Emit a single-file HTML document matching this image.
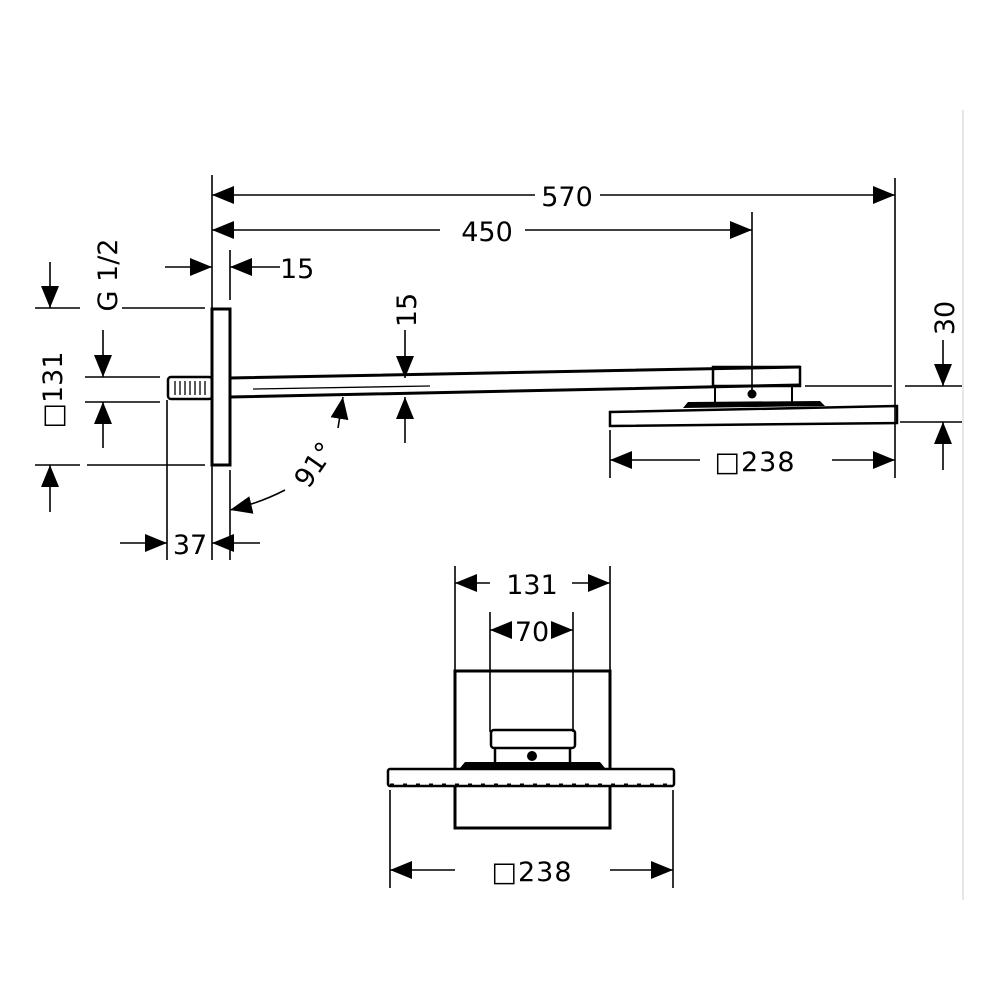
<!DOCTYPE html>
<html><head><meta charset="utf-8"><style>
html,body{margin:0;padding:0;background:#fff}
svg{display:block}
text{font-family:"DejaVu Sans","Liberation Sans",sans-serif;font-size:27px;fill:#000}
</style></head><body>
<svg width="1000" height="1000" viewBox="0 0 1000 1000" xmlns="http://www.w3.org/2000/svg">
<defs>
<marker id="a" markerUnits="userSpaceOnUse" markerWidth="24" markerHeight="20" refX="22" refY="9" orient="auto">
<path d="M0,0 L22,9 L0,18 Z" fill="#000"/></marker>
</defs>
<line x1="963" y1="110" x2="963" y2="900" stroke="#ddd" stroke-width="1.5"/>
<g stroke="#000" stroke-width="1.6" fill="none">
<line x1="212" y1="175" x2="212" y2="560"/>
<line x1="230" y1="250" x2="230" y2="300"/>
<line x1="230" y1="470" x2="230" y2="560"/>
<line x1="895" y1="178" x2="895" y2="478"/>
<line x1="752" y1="212" x2="752" y2="395"/>
<line x1="167" y1="400" x2="167" y2="560"/>
<line x1="610" y1="430" x2="610" y2="478"/>
<line x1="35" y1="308" x2="80" y2="308"/><line x1="122" y1="308" x2="205" y2="308"/>
<line x1="35" y1="465" x2="80" y2="465"/><line x1="87" y1="465" x2="205" y2="465"/>
<line x1="85" y1="377" x2="160" y2="377"/>
<line x1="85" y1="402" x2="160" y2="402"/>
<line x1="805" y1="386" x2="892" y2="386"/><line x1="905" y1="386" x2="962" y2="386"/>
<line x1="900" y1="422" x2="962" y2="422"/>
<path d="M535,195 L212,195" marker-end="url(#a)"/>
<path d="M600,195 L895,195" marker-end="url(#a)"/>
<path d="M440,230 L212,230" marker-end="url(#a)"/>
<path d="M525,230 L752,230" marker-end="url(#a)"/>
<path d="M165,267 L212,267" marker-end="url(#a)"/>
<path d="M280,267 L230,267" marker-end="url(#a)"/>
<path d="M50,262 L50,308" marker-end="url(#a)"/>
<path d="M50,512 L50,465" marker-end="url(#a)"/>
<path d="M103,330 L103,377" marker-end="url(#a)"/>
<path d="M103,448 L103,402" marker-end="url(#a)"/>
<path d="M120,543 L167,543" marker-end="url(#a)"/>
<path d="M260,543 L212,543" marker-end="url(#a)"/>
<path d="M405,330 L405,378" marker-end="url(#a)"/>
<path d="M405,443 L405,397" marker-end="url(#a)"/>
<path d="M338,428 L343,397" marker-end="url(#a)"/>
<path d="M285,490 Q260,503 230,510" marker-end="url(#a)"/>
<path d="M943,340 L943,386" marker-end="url(#a)"/>
<path d="M943,470 L943,422" marker-end="url(#a)"/>
<path d="M700,460 L610,460" marker-end="url(#a)"/>
<path d="M832,460 L895,460" marker-end="url(#a)"/>
</g>
<g stroke="#000" stroke-width="3" fill="none">
<rect x="212" y="309" width="18" height="156"/>
<rect x="168" y="377" width="44" height="22" rx="3" stroke-width="2.5"/>
<path d="M230,378 L800,367 M230,397 L800,385"/>
<rect x="713" y="367" width="87" height="19" stroke-width="2.5"/>
<rect x="715" y="386" width="77" height="17" stroke-width="2"/>
<polygon points="610,412 897,406 897,423 610,426" stroke-width="2.5"/>
</g>
<g stroke="#000" stroke-width="1.3">
<line x1="253" y1="389" x2="430" y2="386"/>
<line x1="175" y1="381" x2="175" y2="395"/><line x1="180" y1="381" x2="180" y2="395"/><line x1="185" y1="381" x2="185" y2="395"/><line x1="190" y1="381" x2="190" y2="395"/><line x1="195" y1="381" x2="195" y2="395"/><line x1="200" y1="381" x2="200" y2="395"/><line x1="205" y1="381" x2="205" y2="395"/>
</g>
<circle cx="752" cy="394" r="4.5" fill="#000"/>
<polygon points="683,408 688,402 820,401 825,406" fill="#000"/>
<text x="567" y="206" text-anchor="middle">570</text>
<text x="487" y="241" text-anchor="middle">450</text>
<text x="280" y="278">15</text>
<text x="190" y="554" text-anchor="middle">37</text>
<text x="755" y="471" text-anchor="middle" letter-spacing="1">□238</text>
<text transform="translate(117,275) rotate(-90)" text-anchor="middle">G 1/2</text>
<text transform="translate(62,390) rotate(-90)" text-anchor="middle">□131</text>
<text transform="translate(416,310) rotate(-90)" text-anchor="middle">15</text>
<text transform="translate(954,318) rotate(-90)" text-anchor="middle">30</text>
<text transform="translate(322,470) rotate(-55)" text-anchor="middle">91°</text>
<g stroke="#000" stroke-width="1.6" fill="none">
<line x1="455" y1="566" x2="455" y2="670"/>
<line x1="610" y1="566" x2="610" y2="670"/>
<line x1="490" y1="612" x2="490" y2="732"/>
<line x1="573" y1="612" x2="573" y2="732"/>
<line x1="390" y1="790" x2="390" y2="888"/>
<line x1="673" y1="790" x2="673" y2="888"/>
<path d="M490,583 L455,583" marker-end="url(#a)"/>
<path d="M572,583 L610,583" marker-end="url(#a)"/>
<path d="M512,630 L490,630" marker-end="url(#a)"/>
<path d="M552,630 L573,630" marker-end="url(#a)"/>
<path d="M455,870 L390,870" marker-end="url(#a)"/>
<path d="M610,870 L673,870" marker-end="url(#a)"/>
</g>
<g stroke="#000" stroke-width="3" fill="none">
<path d="M455,768 L455,671 L610,671 L610,768"/>
<path d="M455,787 L455,828 L610,828 L610,787"/>
<rect x="491" y="730" width="84" height="18" rx="3" stroke-width="2.5"/>
<path d="M495,748 L495,762 M570,748 L570,762" stroke-width="2.5"/>
<rect x="388" y="769" width="286" height="17" rx="2" stroke-width="2.5"/>
<line x1="390" y1="785" x2="672" y2="785" stroke-width="3" stroke-dasharray="4,9"/>
</g>
<circle cx="532" cy="756" r="5" fill="#000"/>
<polygon points="460,768 465,762 600,762 605,768" fill="#000"/>
<text x="532" y="594" text-anchor="middle">131</text>
<text x="532" y="641" text-anchor="middle">70</text>
<text x="532" y="881" text-anchor="middle" letter-spacing="1">□238</text>
</svg>
</body></html>
